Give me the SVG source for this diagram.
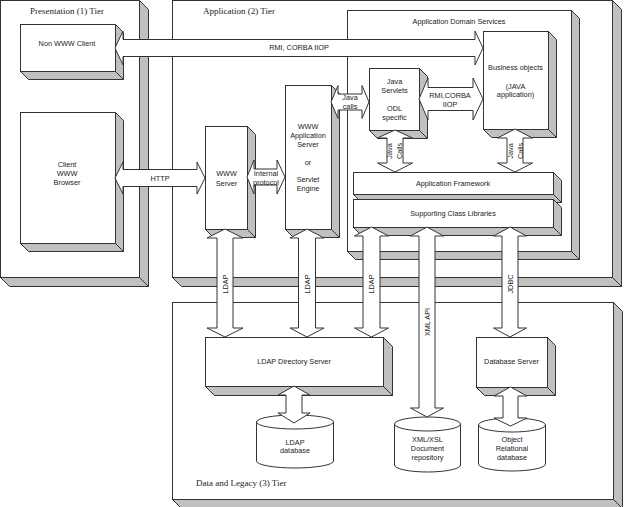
<svg xmlns="http://www.w3.org/2000/svg" width="627" height="507" viewBox="0 0 627 507">
<style>
.sh{fill:#c0c0c0;stroke:#333;stroke-width:1;stroke-linejoin:miter}
.fr{fill:#fff;stroke:#333;stroke-width:1}
.ar{fill:#fff;stroke:#333;stroke-width:1;stroke-linejoin:miter}
.t{font-family:"Liberation Sans",Arial,sans-serif;font-size:7.3px;fill:#222;text-anchor:middle}
.tier{font-family:"Liberation Serif","Times New Roman",serif;font-size:9px;fill:#222}
</style>
<rect width="627" height="507" fill="#fff"/>
<g id="tier-presentation">
<path class="sh" d="M139.5,0.5 L148.5,9.5 L148.5,286.5 L9.5,286.5 L0.5,277.5 Z M139.5,277.5 L148.5,286.5"/>
<rect class="fr" x="0.5" y="0.5" width="139" height="277"/>
<text class="tier" x="30" y="14">Presentation (1) Tier</text>
</g>
<g id="tier-application">
<path class="sh" d="M612.5,0.5 L621.5,9.5 L621.5,286.5 L181.5,286.5 L172.5,277.5 Z M612.5,277.5 L621.5,286.5"/>
<rect class="fr" x="172.5" y="0.5" width="440" height="277"/>
<text class="tier" x="203" y="14">Application (2) Tier</text>
</g>
<g id="tier-data">
<path class="sh" d="M613.5,302.5 L622.5,311.5 L622.5,508.5 L181.5,508.5 L172.5,499.5 Z M613.5,499.5 L622.5,508.5"/>
<rect class="fr" x="172.5" y="302.5" width="441" height="197"/>
<text class="tier" x="196" y="486">Data and Legacy (3) Tier</text>
</g>
<g id="app-domain-services">
<path class="sh" d="M571.5,10.5 L579.5,18.5 L579.5,259.5 L355.5,259.5 L347.5,251.5 Z M571.5,251.5 L579.5,259.5"/>
<rect class="fr" x="347.5" y="10.5" width="224" height="241"/>
<text class="t" x="459" y="23.7">Application Domain Services</text>
</g>
<g id="non-www-client">
<path class="sh" d="M115.5,24.5 L123.5,32.5 L123.5,79.5 L28.5,79.5 L20.5,71.5 Z M115.5,71.5 L123.5,79.5"/>
<rect class="fr" x="20.5" y="24.5" width="95" height="47"/>
<text class="t" x="67" y="45.7">Non WWW Client</text>
</g>
<g id="client-browser">
<path class="sh" d="M115.5,112.5 L123.5,120.5 L123.5,251.5 L28.5,251.5 L20.5,243.5 Z M115.5,243.5 L123.5,251.5"/>
<rect class="fr" x="20.5" y="112.5" width="95" height="131"/>
<text class="t" x="67" y="166.7">Client</text>
<text class="t" x="67" y="175.7">WWW</text>
<text class="t" x="67" y="184.7">Browser</text>
</g>
<g id="www-server">
<path class="sh" d="M247.5,126.5 L255.5,134.5 L255.5,237.5 L213.5,237.5 L205.5,229.5 Z M247.5,229.5 L255.5,237.5"/>
<rect class="fr" x="205.5" y="126.5" width="42" height="103"/>
<text class="t" x="226.5" y="175.7">WWW</text>
<text class="t" x="226.5" y="185.7">Server</text>
</g>
<g id="www-app-server">
<path class="sh" d="M331.5,85.5 L339.5,93.5 L339.5,237.5 L293.5,237.5 L285.5,229.5 Z M331.5,229.5 L339.5,237.5"/>
<rect class="fr" x="285.5" y="85.5" width="46" height="144"/>
<text class="t" x="308" y="128.7">WWW</text>
<text class="t" x="308" y="137.7">Application</text>
<text class="t" x="308" y="146.7">Server</text>
<text class="t" x="308" y="164.7">or</text>
<text class="t" x="308" y="181.7">Servlet</text>
<text class="t" x="308" y="190.7">Engine</text>
</g>
<g id="java-servlets">
<path class="sh" d="M419.5,68.5 L427.5,76.5 L427.5,138.5 L377.5,138.5 L369.5,130.5 Z M419.5,130.5 L427.5,138.5"/>
<rect class="fr" x="369.5" y="68.5" width="50" height="62"/>
<text class="t" x="394.5" y="83.7">Java</text>
<text class="t" x="394.5" y="92.7">Servlets</text>
<text class="t" x="394.5" y="110.7">ODL</text>
<text class="t" x="394.5" y="119.7">specific</text>
</g>
<g id="business-objects">
<path class="sh" d="M548.5,31.5 L556.5,39.5 L556.5,137.5 L491.5,137.5 L483.5,129.5 Z M548.5,129.5 L556.5,137.5"/>
<rect class="fr" x="483.5" y="31.5" width="65" height="98"/>
<text class="t" x="515.5" y="69.7">Business objects</text>
<text class="t" x="515.5" y="88.7">(JAVA</text>
<text class="t" x="515.5" y="97.2">application)</text>
</g>
<g id="application-framework">
<path class="sh" d="M553.5,172.5 L561.5,180.5 L561.5,202.5 L361.5,202.5 L353.5,194.5 Z M553.5,194.5 L561.5,202.5"/>
<rect class="fr" x="353.5" y="172.5" width="200" height="22"/>
<text class="t" x="453" y="185.7">Application Framework</text>
</g>
<g id="supporting-class-libraries">
<path class="sh" d="M553.5,199.5 L561.5,207.5 L561.5,235.5 L361.5,235.5 L353.5,227.5 Z M553.5,227.5 L561.5,235.5"/>
<rect class="fr" x="353.5" y="199.5" width="200" height="28"/>
<text class="t" x="453" y="215.7">Supporting Class Libraries</text>
</g>
<g id="ldap-directory-server">
<path class="sh" d="M383.5,337.5 L392.5,346.5 L392.5,395.5 L214.5,395.5 L205.5,386.5 Z M383.5,386.5 L392.5,395.5"/>
<rect class="fr" x="205.5" y="337.5" width="178" height="49"/>
<text class="t" x="294" y="363.7">LDAP Directory Server</text>
</g>
<g id="database-server">
<path class="sh" d="M547.5,337.5 L555.5,345.5 L555.5,395.5 L484.5,395.5 L476.5,387.5 Z M547.5,387.5 L555.5,395.5"/>
<rect class="fr" x="476.5" y="337.5" width="71" height="50"/>
<text class="t" x="511.5" y="363.7">Database Server</text>
</g>
<g id="ldap-database">
<path class="fr" d="M256.5,422 V461 A38.5,7 0 0 0 333.5,461 V422 Z"/>
<ellipse class="fr" cx="295" cy="422" rx="38.5" ry="7"/>
<text class="t" x="295" y="444.7">LDAP</text>
<text class="t" x="295" y="452.7">database</text>
</g>
<g id="xml-repository">
<path class="fr" d="M394.5,424 V465 A33,7 0 0 0 460.5,465 V424 Z"/>
<ellipse class="fr" cx="427.5" cy="424" rx="33" ry="7"/>
<text class="t" x="427.5" y="441.7">XML/XSL</text>
<text class="t" x="427.5" y="450.7">Document</text>
<text class="t" x="427.5" y="459.7">repository</text>
</g>
<g id="object-relational-db">
<path class="fr" d="M478.5,425 V464 A33.5,7 0 0 0 545.5,464 V425 Z"/>
<ellipse class="fr" cx="512" cy="425" rx="33.5" ry="7"/>
<text class="t" x="512" y="441.7">Object</text>
<text class="t" x="512" y="450.7">Relational</text>
<text class="t" x="512" y="459.7">database</text>
</g>
<g id="connectors">
<polygon class="ar" points="115,48 123,31 123,39.5 475,39.5 475,31 483,48 475,65 475,56.5 123,56.5 123,65"/>
<polygon class="ar" points="115,178 123,162 123,169.5 197,169.5 197,162 205,178 197,194 197,186.5 123,186.5 123,194"/>
<polygon class="ar" points="247,177 254,160 254,169 277,169 277,160 285,177 277,194 277,185 254,185 254,194"/>
<polygon class="ar" points="331,102 338,85.5 338,94 362,94 362,85.5 369,102 362,118.5 362,110 338,110 338,118.5"/>
<polygon class="ar" points="419,99 428,78 428,87.5 473,87.5 473,78 483,99 473,120 473,110.5 428,110.5 428,120"/>
<polygon class="ar" points="225,229 243,238 233,238 233,328 243,328 225,337 207,328 217,328 217,238 207,238"/>
<polygon class="ar" points="307,229 324,238 315.5,238 315.5,328 324,328 307,337 290,328 298.5,328 298.5,238 290,238"/>
<polygon class="ar" points="371.5,227 388.5,236 380,236 380,328 388.5,328 371.5,337 354.5,328 363,328 363,236 354.5,236"/>
<polygon class="ar" points="427,227 443.5,236 435,236 435,408 443.5,408 427,417 410.5,408 419,408 419,236 410.5,236"/>
<polygon class="ar" points="510,227 526.5,236 518,236 518,328 526.5,328 510,337 493.5,328 502,328 502,236 493.5,236"/>
<polygon class="ar" points="395,130 412.5,138 403,138 403,163 412.5,163 395,172 377.5,163 387,163 387,138 377.5,138"/>
<polygon class="ar" points="515,129 532.5,138 523,138 523,163 532.5,163 515,172 497.5,163 507,163 507,138 497.5,138"/>
<polygon class="ar" points="294,386 310,395 302,395 302,413 310,413 294,423 278,413 286,413 286,395 278,395"/>
<polygon class="ar" points="510.5,387 527,396 518,396 518,418 527,418 510.5,426 494,418 503,418 503,396 494,396"/>
<text class="t" x="299" y="49.7">RMI, CORBA IIOP</text>
<text class="t" x="160" y="180.7">HTTP</text>
<text class="t" x="266" y="175.7">Internal</text>
<text class="t" x="266" y="185.2">protocol</text>
<text class="t" x="350" y="99.7">Java</text>
<text class="t" x="350" y="108.7">calls</text>
<text class="t" x="450" y="97.7">RMI,CORBA</text>
<text class="t" x="450" y="106.7">IIOP</text>
<text class="t" transform="translate(225,284) rotate(-90)" y="2.7">LDAP</text>
<text class="t" transform="translate(307,284) rotate(-90)" y="2.7">LDAP</text>
<text class="t" transform="translate(371.5,284) rotate(-90)" y="2.7">LDAP</text>
<text class="t" transform="translate(427,322) rotate(-90)" y="2.7">XML API</text>
<text class="t" transform="translate(510,284) rotate(-90)" y="2.7">JDBC</text>
<text class="t" transform="translate(389.5,151) rotate(-90)" y="2.7">Java</text>
<text class="t" transform="translate(399.5,151) rotate(-90)" y="2.7">Calls</text>
<text class="t" transform="translate(510,151) rotate(-90)" y="2.7">Java</text>
<text class="t" transform="translate(520,151) rotate(-90)" y="2.7">Calls</text>
</g>
</svg>
